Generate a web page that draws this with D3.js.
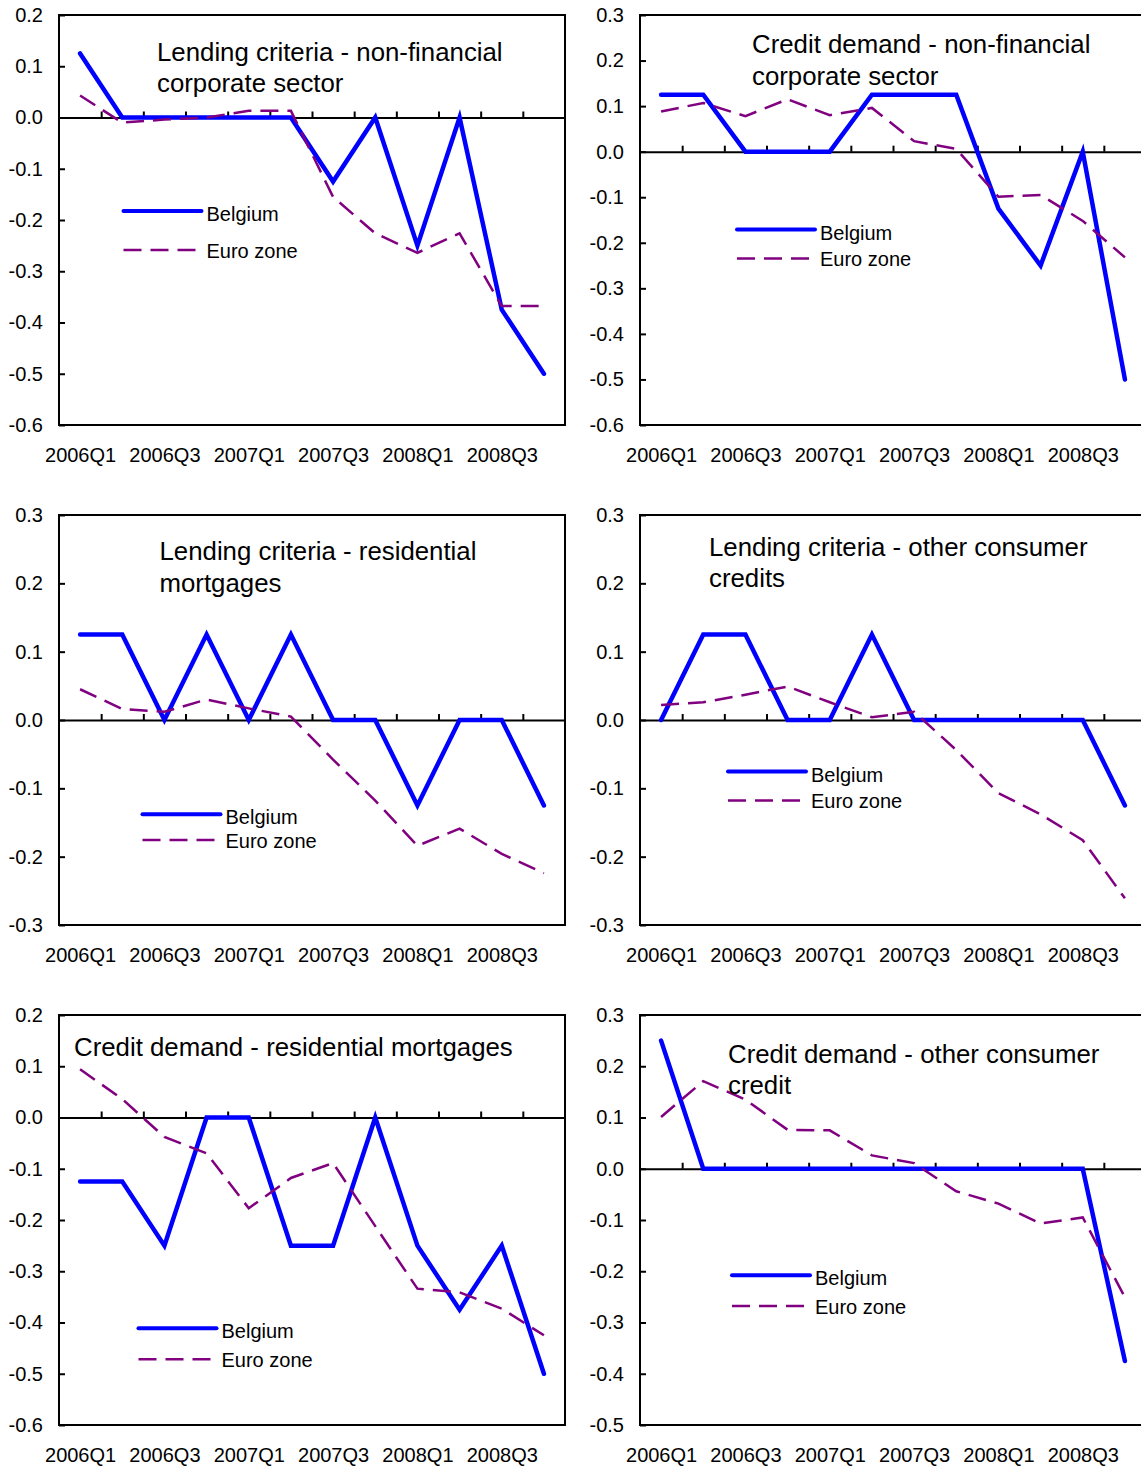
<!DOCTYPE html>
<html>
<head>
<meta charset="utf-8">
<script src="https://cdnjs.cloudflare.com/ajax/libs/d3/7.8.5/d3.min.js"></script>
<style>
  body { margin: 0; background: #ffffff; }
  svg { display: block; font-family: "Liberation Sans", Arial, sans-serif; }
</style>
</head>
<body>
<div id="chart"></div>
<script>
// DATA
const quarters = [
  "2006Q1", "2006Q2", "2006Q3", "2006Q4",
  "2007Q1", "2007Q2", "2007Q3", "2007Q4",
  "2008Q1", "2008Q2", "2008Q3", "2008Q4",
];
const xTickLabels = ["2006Q1", "2006Q3", "2007Q1", "2007Q3", "2008Q1", "2008Q3"];
const seriesNames = ["Belgium", "Euro zone"];

const panelTitles = [
  ["Lending criteria - non-financial", "corporate sector"],
  ["Credit demand - non-financial", "corporate sector"],
  ["Lending criteria - residential", "mortgages"],
  ["Lending criteria - other consumer", "credits"],
  ["Credit demand - residential mortgages"],
  ["Credit demand - other consumer", "credit"],
];

// y axis ranges [min, max], ticks every 0.1
const yDomains = [
  [-0.6, 0.2],
  [-0.6, 0.3],
  [-0.3, 0.3],
  [-0.3, 0.3],
  [-0.6, 0.2],
  [-0.5, 0.3],
];

const belgiumLendingCorporate = [0.125, 0, 0, 0, 0, 0, -0.125, 0, -0.25, 0, -0.375, -0.5];
const euroLendingCorporate = [0.043, -0.01, -0.004, 0.0, 0.013, 0.013, -0.155, -0.226, -0.264, -0.226, -0.368, -0.368];

const belgiumDemandCorporate = [0.125, 0.125, 0, 0, 0, 0.125, 0.125, 0.125, -0.125, -0.25, 0, -0.5];
const euroDemandCorporate = [0.088, 0.107, 0.078, 0.115, 0.08, 0.096, 0.023, 0.006, -0.099, -0.095, -0.152, -0.232];

const belgiumLendingMortgages = [0.125, 0.125, 0, 0.125, 0, 0.125, 0, 0, -0.125, 0, 0, -0.125];
const euroLendingMortgages = [0.045, 0.016, 0.012, 0.03, 0.017, 0.005, -0.058, -0.118, -0.184, -0.159, -0.196, -0.224];

const belgiumLendingConsumer = [0, 0.125, 0.125, 0, 0, 0.125, 0, 0, 0, 0, 0, -0.125];
const euroLendingConsumer = [0.022, 0.026, 0.037, 0.049, 0.026, 0.004, 0.012, -0.044, -0.107, -0.138, -0.176, -0.261];

const belgiumDemandMortgages = [-0.125, -0.125, -0.25, 0, 0, -0.25, -0.25, 0, -0.25, -0.375, -0.25, -0.5];
const euroDemandMortgages = [0.094, 0.036, -0.038, -0.07, -0.177, -0.118, -0.089, -0.212, -0.334, -0.341, -0.373, -0.425];

const belgiumDemandConsumer = [0.25, 0, 0, 0, 0, 0, 0, 0, 0, 0, 0, -0.375];
const euroDemandConsumer = [0.101, 0.171, 0.135, 0.076, 0.075, 0.026, 0.011, -0.044, -0.068, -0.107, -0.095, -0.251];

const belgiumSeries = [
  belgiumLendingCorporate, belgiumDemandCorporate,
  belgiumLendingMortgages, belgiumLendingConsumer,
  belgiumDemandMortgages, belgiumDemandConsumer,
];
const euroSeries = [
  euroLendingCorporate, euroDemandCorporate,
  euroLendingMortgages, euroLendingConsumer,
  euroDemandMortgages, euroDemandConsumer,
];

// LAYOUT
const config = {
  width: 1141,
  height: 1469,
  plotWidth: 506,
  plotHeight: 410,
  colLeft: [59, 640],
  rowTop: [15, 515, 1015],
  belgiumColor: "#0000FF",
  euroColor: "#800080",
  tickFont: 20,
  titleFont: 25.8,
};

// title anchor and legend anchor (text x, line y for each entry)
const panelLayout = [
  { title: [157, 60.5], legend: { x: 206.5, yB: 211, yE: 250 } },
  { title: [752, 53], legend: { x: 820, yB: 229.5, yE: 258.5 } },
  { title: [159.5, 560], legend: { x: 225.5, yB: 814.3, yE: 840 } },
  { title: [709, 555.5], legend: { x: 811, yB: 771.5, yE: 800.5 } },
  { title: [74, 1055.5], legend: { x: 221.5, yB: 1328.3, yE: 1359.3 } },
  { title: [728, 1062.5], legend: { x: 815, yB: 1275.3, yE: 1306 } },
];

const svg = d3
  .select("#chart")
  .append("svg")
  .attr("width", config.width)
  .attr("height", config.height);

const fmt = (d) => (d < 0 ? "-" : "") + Math.abs(d).toFixed(1);

function drawPanel(i) {
  const left = config.colLeft[i % 2];
  const top = config.rowTop[Math.floor(i / 2)];
  const right = left + config.plotWidth;
  const bottom = top + config.plotHeight;
  const [yMin, yMax] = yDomains[i];
  const layout = panelLayout[i];

  const g = svg.append("g");

  const xScale = d3.scalePoint().domain(quarters).range([left, right]).padding(0.5);
  const xEdges = d3.scaleLinear().domain([0, quarters.length]).range([left, right]);
  const yScale = d3.scaleLinear().domain([yMin, yMax]).range([bottom, top]);

  const yTicks = d3
    .range(Math.round(yMin * 10), Math.round(yMax * 10) + 1)
    .map((k) => k / 10);

  // Frame
  g.append("rect")
    .attr("x", left)
    .attr("y", top)
    .attr("width", config.plotWidth)
    .attr("height", config.plotHeight)
    .attr("fill", "none")
    .attr("stroke", "#000")
    .attr("stroke-width", 2);

  // Y axis (ticks inside)
  const yAxis = g
    .append("g")
    .attr("transform", `translate(${left},0)`)
    .call(
      d3.axisLeft(yScale)
        .tickValues(yTicks)
        .tickSizeInner(-6)
        .tickSizeOuter(0)
        .tickPadding(16)
        .tickFormat(fmt)
    );
  yAxis.select(".domain").remove();
  yAxis.selectAll("line").attr("stroke", "#000").attr("stroke-width", 2);
  yAxis.selectAll("text")
    .attr("font-size", config.tickFont)
    .attr("font-family", "Liberation Sans, Arial, sans-serif")
    .attr("fill", "#000");

  // Zero line with category tick marks pointing up
  const zeroAxis = g
    .append("g")
    .attr("transform", `translate(0,${yScale(0)})`)
    .call(
      d3.axisTop(xEdges)
        .tickValues(d3.range(1, quarters.length))
        .tickSizeInner(6)
        .tickSizeOuter(0)
        .tickFormat("")
    );
  zeroAxis.selectAll("path, line").attr("stroke", "#000").attr("stroke-width", 2);

  // X labels under the frame
  const xAxis = g
    .append("g")
    .attr("transform", `translate(0,${bottom})`)
    .call(d3.axisBottom(xScale).tickValues(xTickLabels).tickSize(0).tickPadding(23));
  xAxis.select(".domain").remove();
  xAxis.selectAll("text")
    .attr("font-size", config.tickFont)
    .attr("font-family", "Liberation Sans, Arial, sans-serif")
    .attr("fill", "#000");

  const line = d3
    .line()
    .x((d, j) => xScale(quarters[j]))
    .y((d) => yScale(d));

  // Belgium
  g.append("path")
    .datum(belgiumSeries[i])
    .attr("d", line)
    .attr("fill", "none")
    .attr("stroke", config.belgiumColor)
    .attr("stroke-width", 4.5)
    .attr("stroke-linecap", "round");

  // Euro zone
  g.append("path")
    .datum(euroSeries[i])
    .attr("d", line)
    .attr("fill", "none")
    .attr("stroke", config.euroColor)
    .attr("stroke-width", 2.5)
    .attr("stroke-dasharray", "18,9");

  // Title
  const title = g
    .append("text")
    .attr("x", layout.title[0])
    .attr("y", layout.title[1])
    .attr("font-size", config.titleFont)
    .attr("fill", "#000");
  title
    .selectAll("tspan")
    .data(panelTitles[i])
    .join("tspan")
    .attr("x", layout.title[0])
    .attr("dy", (d, j) => (j === 0 ? 0 : 31.5))
    .text((d) => d);

  // Legend
  const lg = layout.legend;
  g.append("line")
    .attr("x1", lg.x - 83)
    .attr("x2", lg.x - 5)
    .attr("y1", lg.yB)
    .attr("y2", lg.yB)
    .attr("stroke", config.belgiumColor)
    .attr("stroke-width", 4)
    .attr("stroke-linecap", "round");
  g.append("text")
    .attr("x", lg.x)
    .attr("y", lg.yB + 10)
    .attr("font-size", config.tickFont)
    .attr("fill", "#000")
    .text(seriesNames[0]);

  g.append("line")
    .attr("x1", lg.x - 83)
    .attr("x2", lg.x - 11)
    .attr("y1", lg.yE)
    .attr("y2", lg.yE)
    .attr("stroke", config.euroColor)
    .attr("stroke-width", 2.5)
    .attr("stroke-dasharray", "18,9");
  g.append("text")
    .attr("x", lg.x)
    .attr("y", lg.yE + 7.5)
    .attr("font-size", config.tickFont)
    .attr("fill", "#000")
    .text(seriesNames[1]);
}

d3.range(6).forEach(drawPanel);
</script>
</body>
</html>
